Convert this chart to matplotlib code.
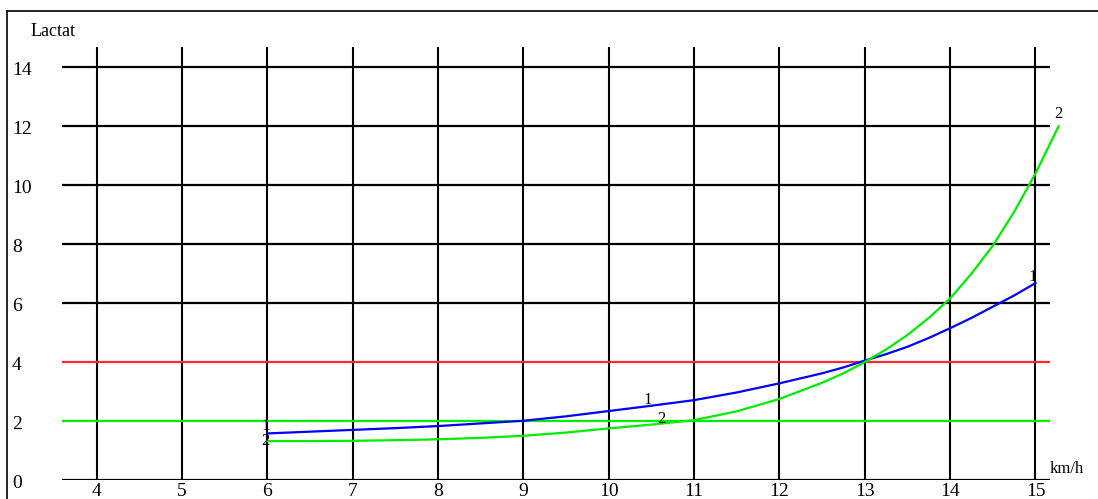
import matplotlib
matplotlib.use("Agg")
import matplotlib.pyplot as plt
from matplotlib.lines import Line2D
import matplotlib.transforms as mtransforms

# ---- data ----
speed = [6, 6.5, 7, 7.5, 8, 8.5, 9, 9.5, 10, 10.5, 11, 11.5, 12, 12.5, 12.75, 13, 13.25, 13.5, 13.75,
         14, 14.25, 14.5, 14.75, 15]
lactate_1 = [1.58, 1.64, 1.70, 1.76, 1.83, 1.92, 2.01, 2.16, 2.34, 2.52, 2.71, 2.97, 3.28, 3.62, 3.82, 4.05,
             4.27, 4.52, 4.82, 5.15, 5.50, 5.88, 6.26, 6.68]
speed_2 = [6, 6.5, 7, 7.5, 8, 8.5, 9, 9.5, 10, 10.5, 11, 11.5, 12, 12.5, 12.75, 13, 13.25, 13.5, 13.75,
           14, 14.25, 14.5, 14.75, 15, 15.27]
lactate_2 = [1.32, 1.32, 1.33, 1.35, 1.38, 1.43, 1.50, 1.61, 1.75, 1.88, 2.03, 2.33, 2.75, 3.30, 3.62, 4.00,
             4.43, 4.92, 5.50, 6.16, 7.00, 7.95, 9.10, 10.4, 12.0]
x_ticks = [4, 5, 6, 7, 8, 9, 10, 11, 12, 13, 14, 15]
y_ticks = [0, 2, 4, 6, 8, 10, 12, 14]
threshold_red = 4
threshold_green = 2

FONT = ['Liberation Serif', 'DejaVu Serif']

W, H = 1098, 499
fig = plt.figure(figsize=(W / 100, H / 100), dpi=100)
fig.patch.set_facecolor('white')

ax = fig.add_axes([62 / W, (H - 480) / H, 988 / W, 433.3 / H])
ax.set_xlim(3.593, 15.17)
ax.set_ylim(0, 14.7)
ax.axis('off')

# grid
for xv in x_ticks:
    ax.axvline(xv, color='black', lw=1.5, zorder=1)
for yv in y_ticks:
    if yv == threshold_red:
        c = '#ff2a2a'
    elif yv == threshold_green:
        c = '#00ee00'
    else:
        c = 'black'
    ax.axhline(yv, color=c, lw=1.6, zorder=2 if c != 'black' else 1)

# curves
ax.plot(speed, lactate_1, color='#0000ff', lw=1.6, zorder=3, clip_on=False)
ax.plot(speed_2, lactate_2, color='#00ee00', lw=1.6, zorder=3, clip_on=False)

# curve labels
lab_kw = dict(fontsize=12, family=FONT, color='black', zorder=4)
ax.text(6.03, 1.84, '1', ha='right', va='center', **lab_kw)
ax.text(6.03, 1.34, '2', ha='right', va='center', **lab_kw)
ax.text(10.46, 2.70, '1', ha='center', va='center', **lab_kw)
ax.text(10.62, 2.07, '2', ha='center', va='center', **lab_kw)
ax.text(14.97, 6.89, '1', ha='center', va='center', **lab_kw)
ax.text(15.27, 12.42, '2', ha='center', va='center', **lab_kw)

# y tick labels (left, in figure pixels)
ytrans = mtransforms.blended_transform_factory(fig.transFigure, ax.transData)
ytrans = mtransforms.offset_copy(ytrans, fig=fig, y=-3, units='dots')
for yv in y_ticks:
    ax.text(12 / W, yv, str(yv), transform=ytrans, ha='left', va='center',
            fontsize=14, family=FONT, color='black', clip_on=False)

# x tick labels
xtrans = mtransforms.blended_transform_factory(ax.transData, fig.transFigure)
for xv in x_ticks:
    ax.text(xv, (H - 483) / H, str(xv), transform=xtrans, ha='center', va='top',
            fontsize=14, family=FONT, color='black', clip_on=False)

# axis titles
fig.text(31 / W, (H - 32) / H, 'Lactat', ha='left', va='center', fontsize=13, family=FONT)
fig.text(1050 / W, (H - 469) / H, 'km/h', ha='left', va='center', fontsize=12, family=FONT)

# outer frame (top and left)
fig.add_artist(Line2D([7 / W, 1.0], [(H - 10.5) / H] * 2, transform=fig.transFigure, color='black', lw=1.2))
fig.add_artist(Line2D([7 / W] * 2, [0, (H - 10.5) / H], transform=fig.transFigure, color='black', lw=1.2))

fig.savefig('out.png', dpi=100, facecolor='white')
